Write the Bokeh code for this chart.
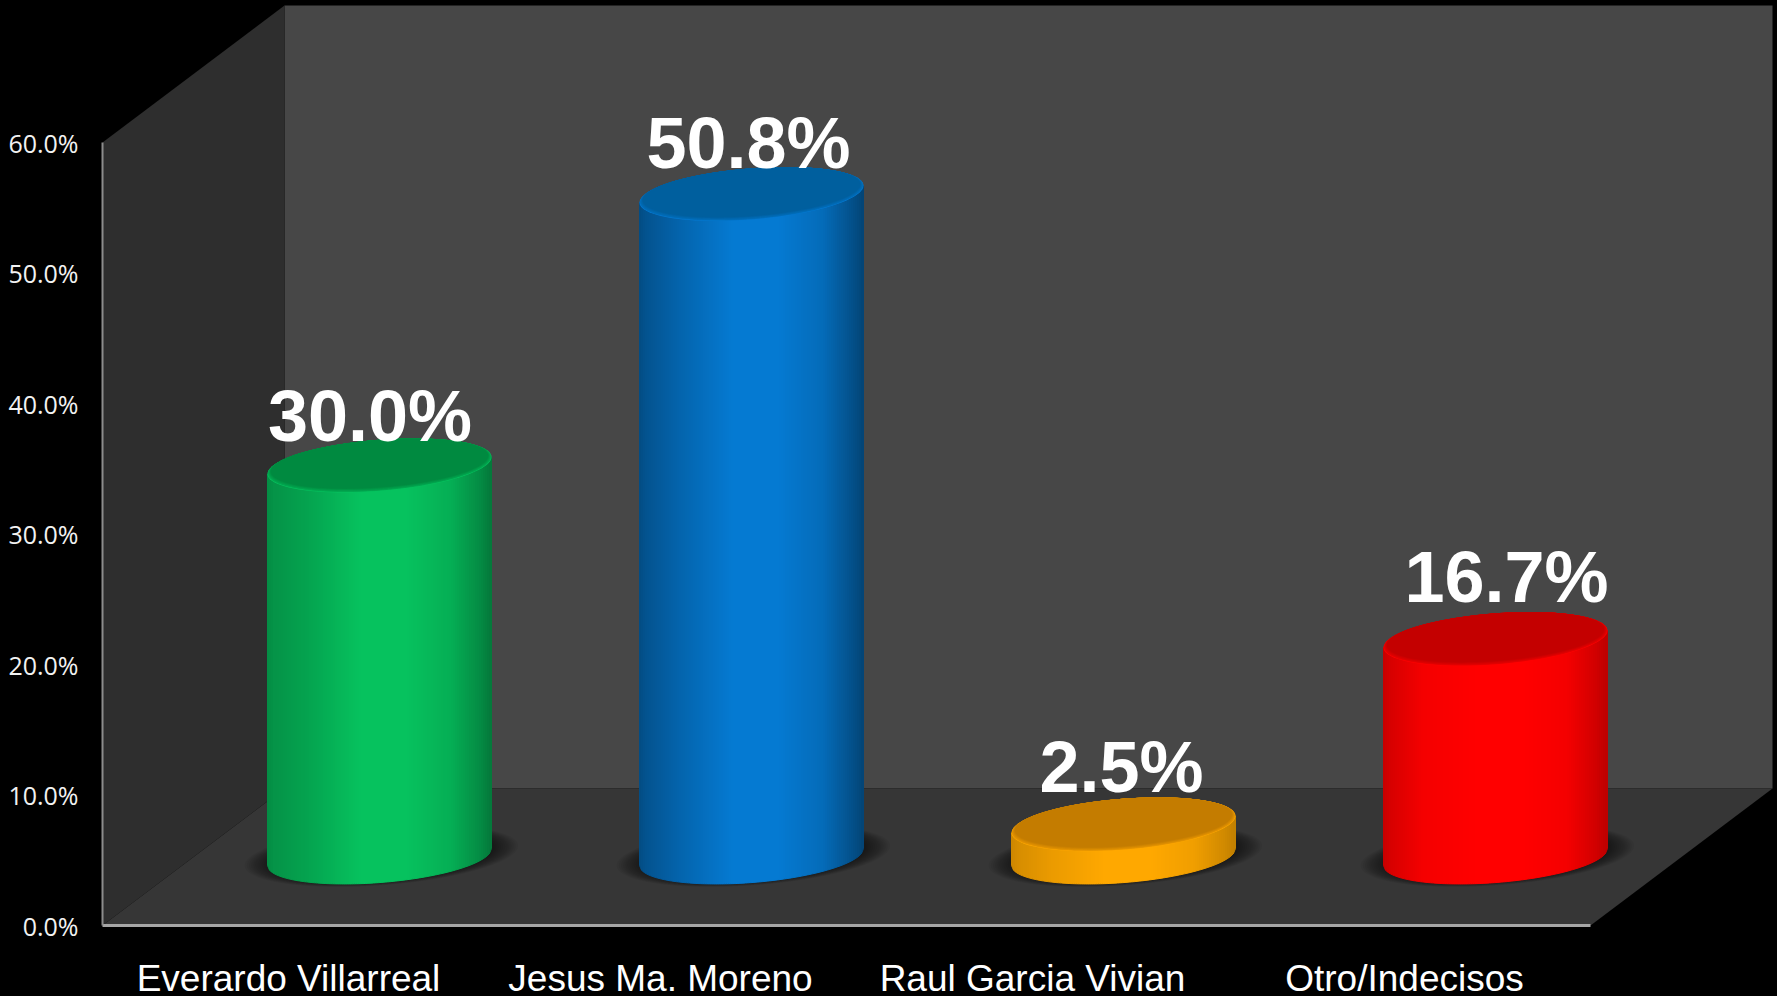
import numpy as np
from bokeh.plotting import figure
from bokeh.models import (Range1d, FixedTicker, GlobalInlineStyleSheet, ColumnDataSource)
from bokeh.core.properties import value
from bokeh.embed import file_html
from bokeh.resources import INLINE

# ---- data
categories = ["Everardo Villarreal", "Jesus Ma. Moreno", "Raul Garcia Vivian", "Otro/Indecisos"]
values = [30.0, 50.8, 2.5, 16.7]
labels = ["30.0%", "50.8%", "2.5%", "16.7%"]
y_ticks = [0, 10, 20, 30, 40, 50, 60]

# ---- colours
body_colors = [(6, 194, 94), (5, 122, 210), (255, 168, 0), (255, 0, 0)]
top_colors = [(0, 138, 64), (0, 95, 158), (196, 124, 0), (196, 0, 0)]
wall_back, wall_left, floor_col = "#474747", "#2e2e2e", "#363636"
axis_col = "#8c8c8c"

# ---- geometry (pixels of the picture -> data units)
W, H = 1777, 1001
left_px, bottom_px = 102, 76
px_per_pct = 13.05
px_per_cat = 372.0
DX = 182 / px_per_cat        # depth shift in category units
DY = 137 / px_per_pct        # depth shift in percent units
RX = 112 / px_per_cat        # cylinder half width
SHEAR = 8.5 / px_per_pct     # tilt of the elliptic caps
RY = 25.6 / px_per_pct       # half height of the elliptic caps
Y_MAX = 60
x0, x1 = -0.5, 3.5

# label nudges, in pixels: horizontal and above cap centre
nudge_x = [-9.5, -3, -2, 11]
nudge_y = [50, 51, 57, 62]

p = figure(width=W, height=H, output_backend="svg", toolbar_location=None,
           x_range=Range1d(x0, x0 + (W - left_px) / px_per_cat),
           y_range=Range1d(0, (H - bottom_px) / px_per_pct),
           min_border_left=left_px, min_border_bottom=bottom_px,
           min_border_top=0, min_border_right=0,
           background_fill_color="#000000", border_fill_color="#000000",
           outline_line_color=None)
p.grid.visible = False
p.stylesheets = [GlobalInlineStyleSheet(css="html,body{margin:0;background:#000;overflow:hidden}")]

# ---- walls and floor
p.patch([x0 + DX, x1 + DX, x1 + DX, x0 + DX], [DY, DY, Y_MAX + DY, Y_MAX + DY],
        fill_color=wall_back, line_color=None)
p.patch([x0, x0 + DX, x0 + DX, x0], [0, DY, Y_MAX + DY, Y_MAX], fill_color=wall_left, line_color=None)
p.patch([x0, x1, x1 + DX, x0 + DX], [0, 0, DY, DY], fill_color=floor_col, line_color=None)


def ellipse(cx, cy, sx=1.0, sy=1.0, n=90):
    t = np.linspace(0, 2 * np.pi, n, endpoint=False)
    return (cx + sx * RX * np.cos(t)).tolist(), (cy + sy * (SHEAR * np.cos(t) + RY * np.sin(t))).tolist()


def lower_edge(u):
    return SHEAR * u - RY * np.sqrt(np.clip(1 - u * u, 0, 1))


def mix(c, f):
    return "#%02x%02x%02x" % tuple(int(round(min(255, max(0, v * f)))) for v in c)


def mixc(a, b, t):
    return "#%02x%02x%02x" % tuple(int(round(a[i] + (b[i] - a[i]) * t)) for i in range(3))


shade_u = [0.0, 0.03, 0.18, 0.42, 0.62, 0.82, 0.95, 1.0]
shade_f = [[0.72, 0.76, 0.84, 1.0, 1.0, 0.90, 0.72, 0.62],
           [0.62, 0.68, 0.82, 1.0, 1.0, 0.88, 0.66, 0.56],
           [0.80, 0.84, 0.92, 1.0, 1.0, 0.94, 0.82, 0.76],
           [0.78, 0.84, 0.96, 1.0, 1.0, 0.96, 0.82, 0.74]]

for i, v in enumerate(values):
    cx = i + DX / 2
    base = DY / 2
    top = base + v

    # soft shadow on the floor
    for k in range(12):
        s = 1.22 - k * 0.019
        xs, ys = ellipse(cx + 0.005, base + 0.1, s, 1.0 + (s - 1) * 0.7)
        p.patch(xs, ys, fill_color="#000000", fill_alpha=0.05, line_color=None)

    # cylinder side, thin vertical strips
    edges = np.linspace(-1, 1, 113)
    xs_all, ys_all, cols = [], [], []
    for a, b in zip(edges[:-1], edges[1:]):
        m = (a + b) / 2
        f = np.interp((m + 1) / 2, shade_u, shade_f[i])
        xa, xb = cx + a * RX, cx + b * RX
        xs_all.append([xa, xb, xb, xa])
        ys_all.append([base + lower_edge(a), base + lower_edge(b), top + SHEAR * b, top + SHEAR * a])
        cols.append(mix(body_colors[i], f))
    src = ColumnDataSource(dict(xs=xs_all, ys=ys_all, c=cols))
    p.patches("xs", "ys", source=src, fill_color="c", line_color="c", line_width=1)

    # top cap: rim blending into the darker face
    xs, ys = ellipse(cx, top)
    p.patch(xs, ys, fill_color=mix(body_colors[i], 1.0), line_color=None)
    for k in range(1, 9):
        t = k / 8
        xs, ys = ellipse(cx, top + 0.15 * t, 1 - 0.03 * t, 1 - 0.07 * t)
        p.patch(xs, ys, fill_color=mixc(body_colors[i], top_colors[i], 0.35 + 0.65 * t), line_color=None)

# ---- value labels
p.text([i + DX / 2 + nudge_x[i] / px_per_cat for i in range(4)],
       [DY / 2 + values[i] + nudge_y[i] / px_per_pct for i in range(4)],
       text=labels, text_font=value("Liberation Sans"), text_font_style="bold",
       text_font_size="72px", text_color="#ffffff", text_align="center", text_baseline="alphabetic")

# ---- axes
ya = p.yaxis[0]
ya.ticker = FixedTicker(ticks=y_ticks)
ya.formatter.use_scientific = False
ya.major_label_overrides = {t: f"{t:.1f}%" for t in y_ticks}
ya.bounds = (0, Y_MAX)
ya.major_tick_line_color = None
ya.minor_tick_line_color = None
ya.axis_line_color = axis_col
ya.axis_line_width = 2
ya.major_label_text_color = "#f2f2f2"
ya.major_label_text_font = "Open Sans"
ya.major_label_text_font_size = "25px"
ya.major_label_standoff = 18

xa_ = p.xaxis[0]
xa_.ticker = FixedTicker(ticks=list(range(len(categories))))
xa_.major_label_overrides = {i: c for i, c in enumerate(categories)}
xa_.bounds = (x0, x1)
xa_.major_tick_line_color = None
xa_.minor_tick_line_color = None
xa_.axis_line_color = "#a6a6a6"
xa_.axis_line_width = 3
xa_.major_label_text_color = "#ffffff"
xa_.major_label_text_font = "Liberation Sans"
xa_.major_label_text_font_size = "37px"
xa_.major_label_standoff = 26

open("out.html", "w").write(file_html(p, INLINE))
